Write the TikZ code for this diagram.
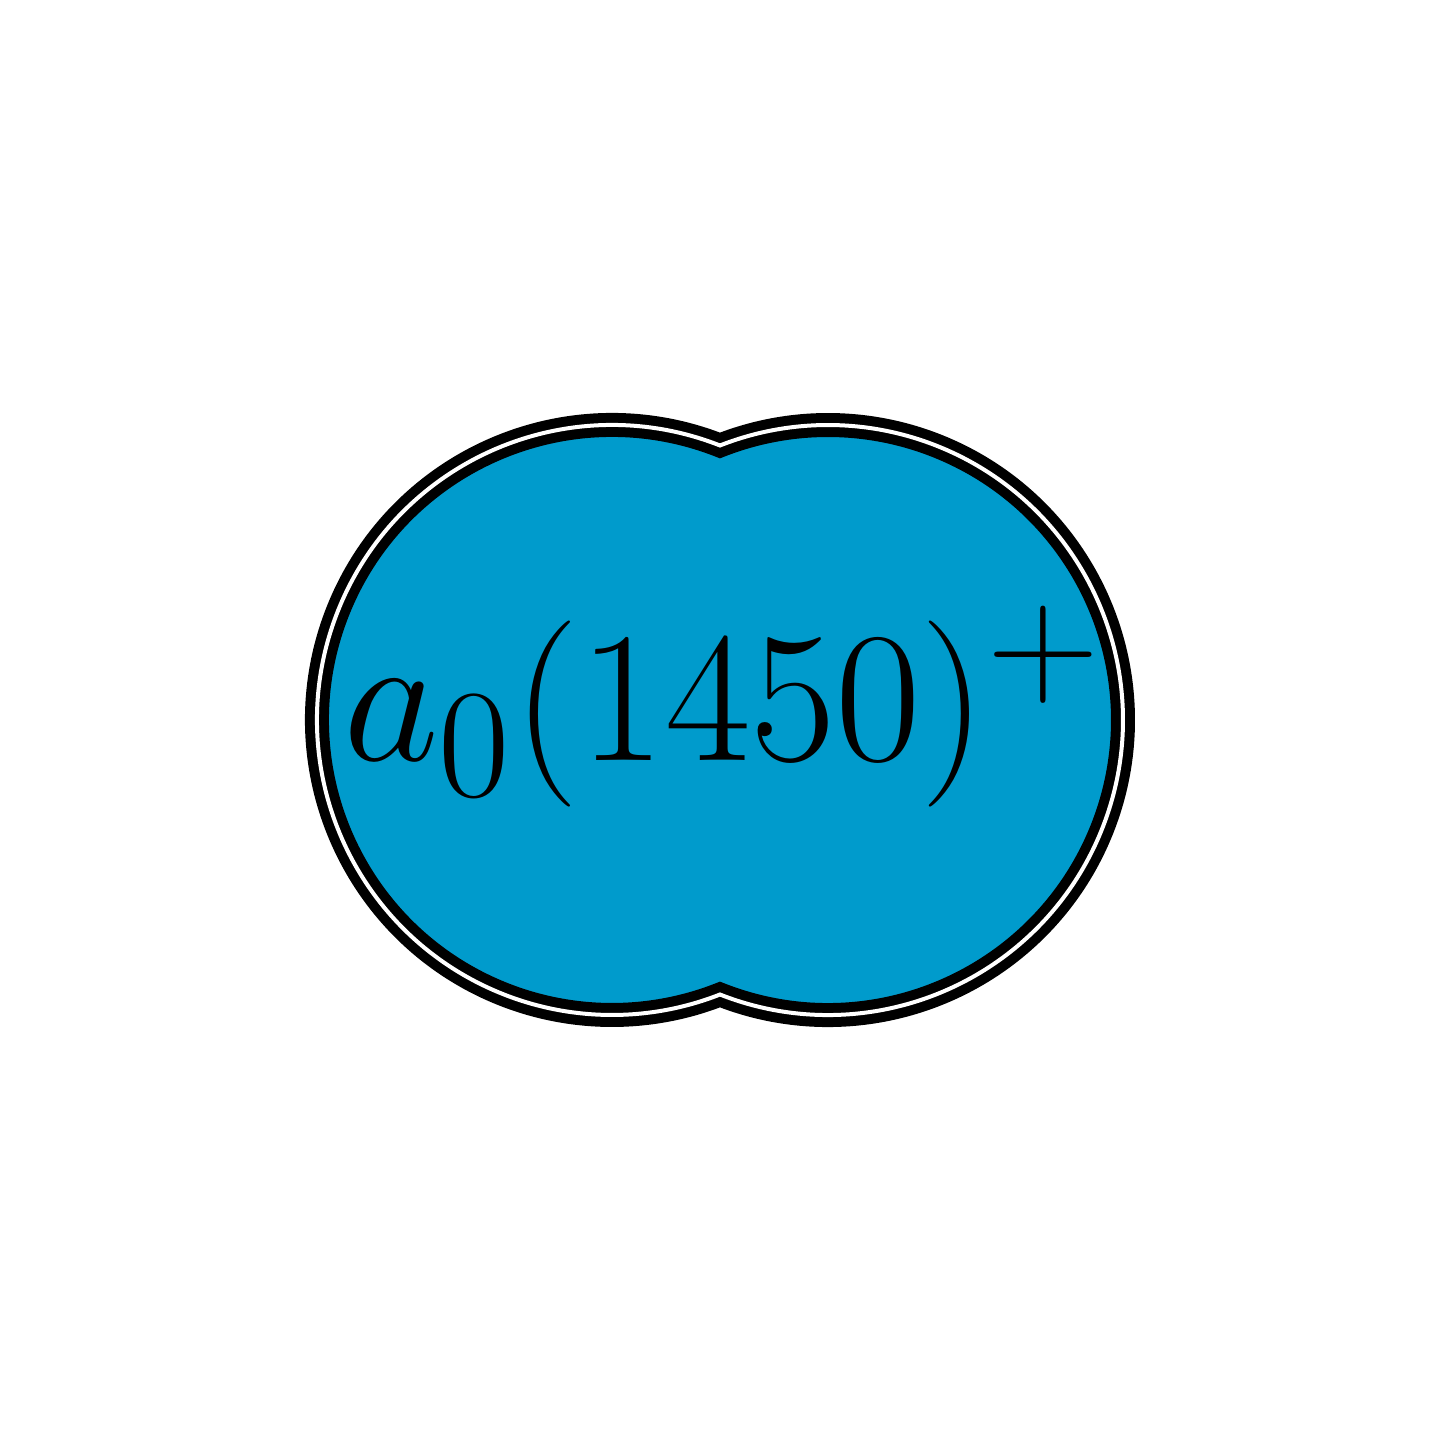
\documentclass[tikz,border=0pt]{standalone}
\usepackage{tikz}
\definecolor{blobblue}{RGB}{0,155,204}
\tikzset{
  blob/.style={fill=blobblue, draw=black, line width=0.1cm, double=white, double distance=0.04cm},
  blobtext/.style={font=\Huge, scale=2.13, inner sep=0pt, anchor=base}
}
\begin{document}
\begin{tikzpicture}
\useasboundingbox (0,0) rectangle (14.4,14.4);
\path[blob] ([shift={(68.53:2.95)}]6.12,7.2) coordinate (topcusp)
  arc[start angle=68.53, end angle=291.47, radius=2.95]
  arc[start angle=248.53, end angle=471.47, radius=2.95] -- cycle;
\node[blobtext] (label) at (7.23,6.79) {$a_0(1450)^+$};
\end{tikzpicture}
\end{document}
